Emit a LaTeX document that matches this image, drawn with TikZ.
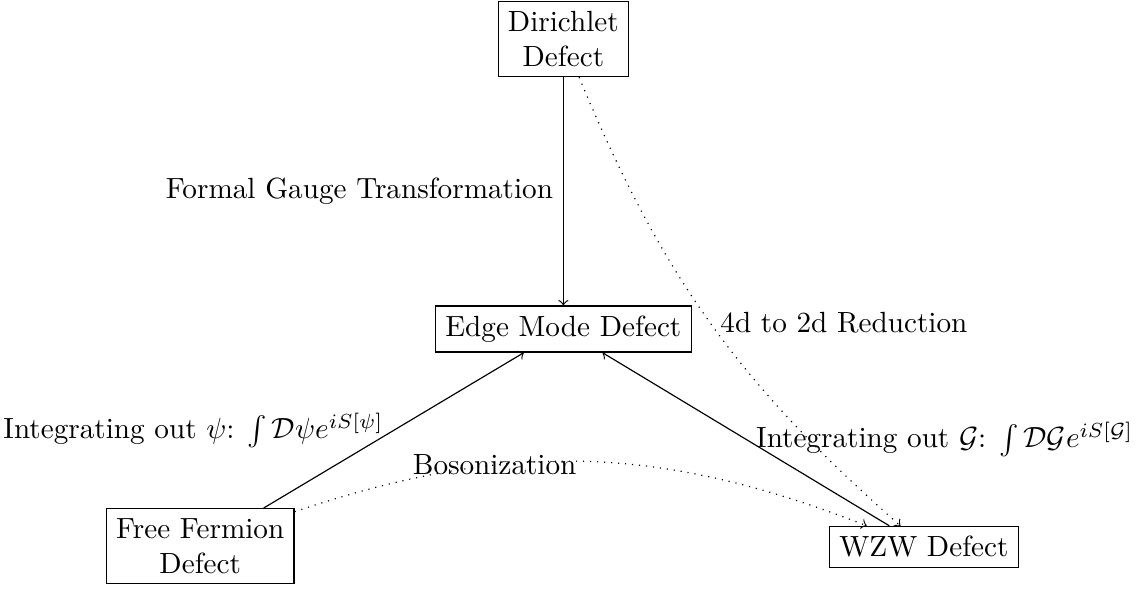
\documentclass[tikz,border=0pt]{standalone}
\usepackage{amsmath}
\begin{document}
\begin{tikzpicture}[box/.style={draw, align=center}, >=to]
\useasboundingbox (-6.78,-3.17) rectangle (6.94,3.96);
\node[box] (dir) at (0,3.49) {Dirichlet\\Defect};
\node[box] (edge) at (0,0) {Edge Mode Defect};
\node[box] (ff) at (-4.37,-2.61) {Free Fermion\\Defect};
\node[box] (wzw) at (4.34,-2.62) {WZW Defect};
\draw[->] (dir) -- node[left] {Formal Gauge Transformation} (edge);
\draw[->, dotted] (dir) to[bend right=13] node[right] {4d to 2d Reduction} (wzw);
\draw[->] (ff) -- node[left] {Integrating out $\psi$: $\int \mathcal{D}\psi e^{iS[\psi]}$} (edge);
\draw[->] (wzw) -- node[right] {Integrating out $\mathcal{G}$: $\int \mathcal{D}\mathcal{G} e^{iS[\mathcal{G}]}$} (edge);
\draw[->, dotted] (ff) to[bend left=20] node[pos=0.34] {Bosonization} (wzw);
\end{tikzpicture}
\end{document}
